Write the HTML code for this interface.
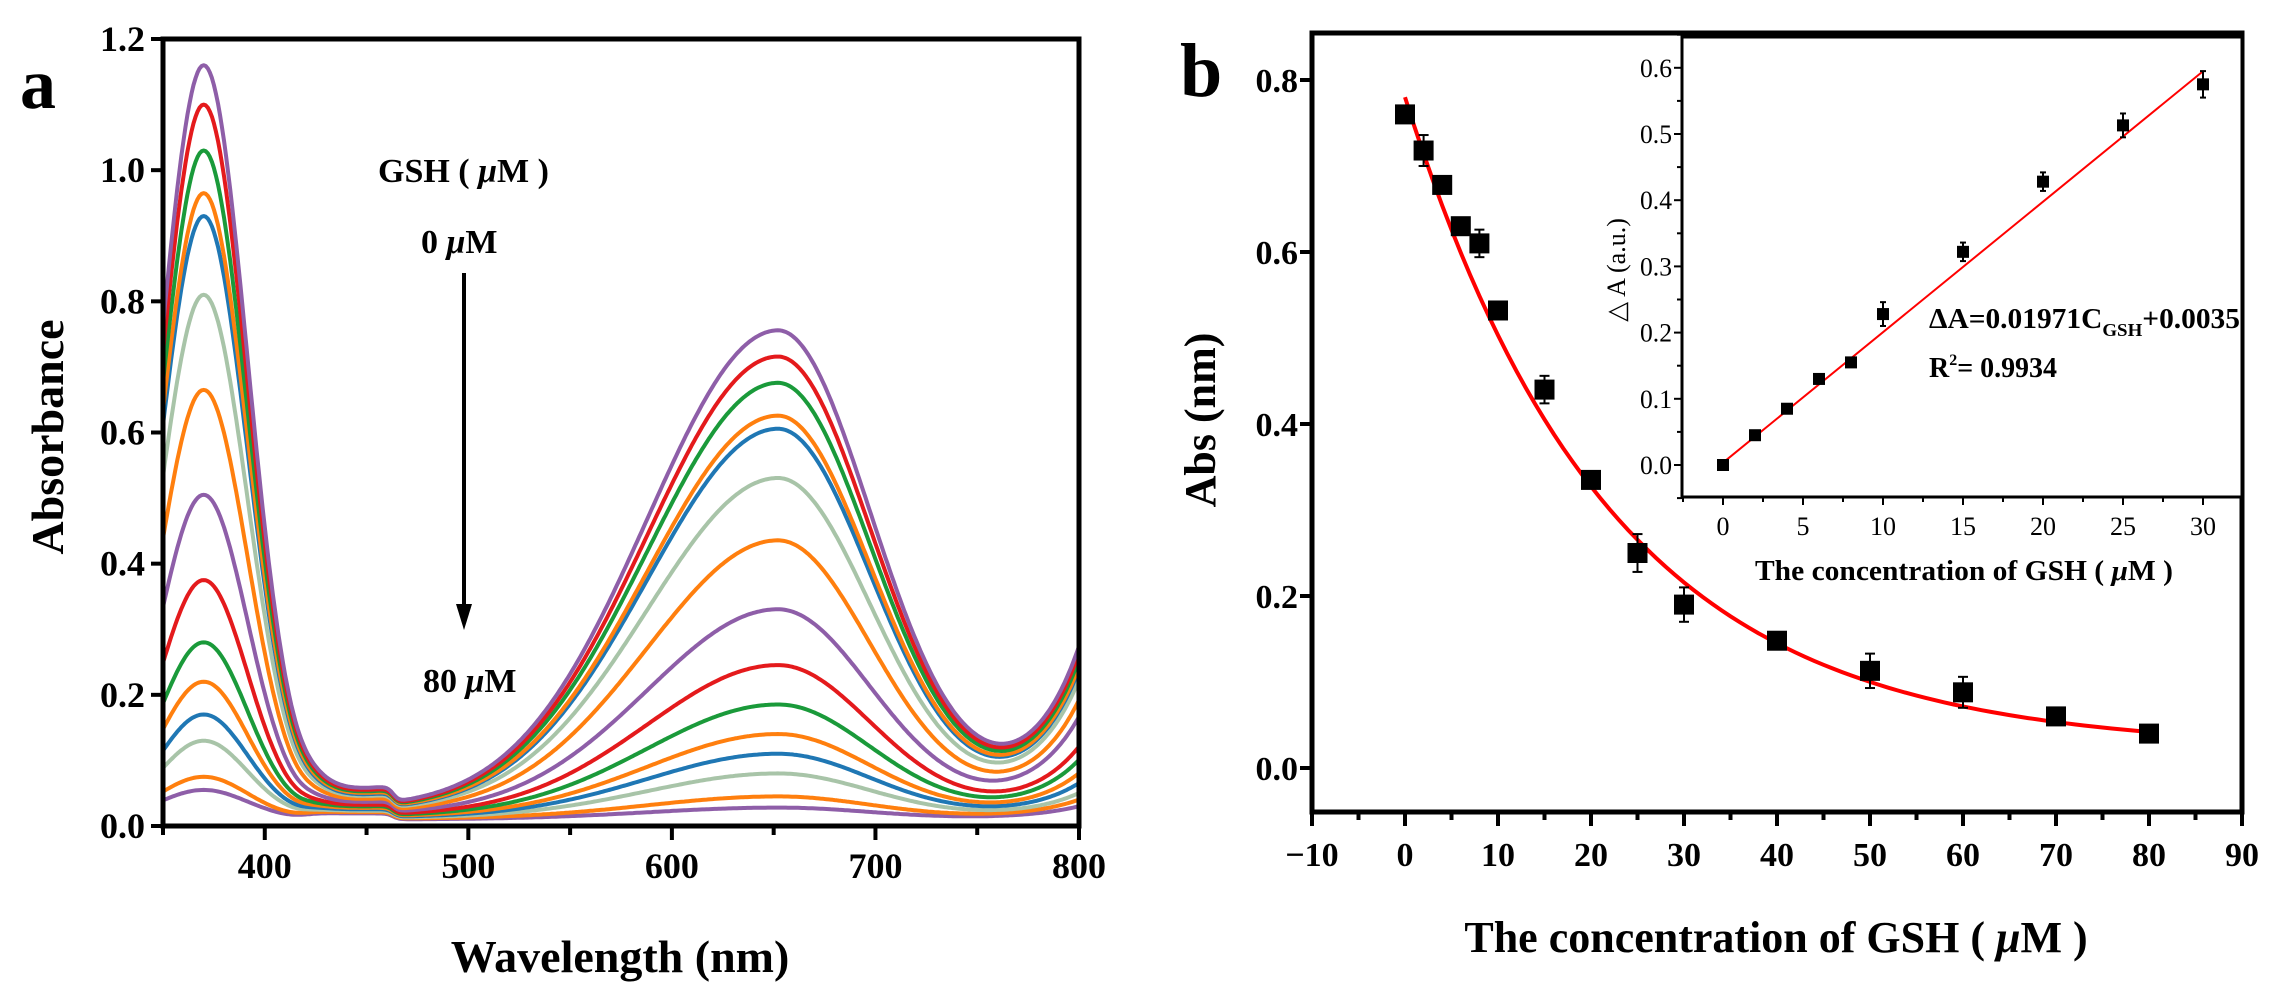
<!DOCTYPE html>
<html><head><meta charset="utf-8"><style>
html,body{margin:0;padding:0;background:#fff;}
svg{display:block;font-family:"Liberation Serif",serif;}
</style></head><body>
<svg id="fig" width="2278" height="993" viewBox="0 0 2278 993" xmlns="http://www.w3.org/2000/svg">
<g id="pa"></g>
<g id="pb"></g>
</svg>
<script>
// ---------- Panel a data ----------
const concLabels = [0,2,4,6,8,10,15,20,25,30,40,50,60,70,80];
const peak370 = [1.16,1.10,1.03,0.965,0.93,0.81,0.665,0.505,0.375,0.28,0.22,0.17,0.13,0.075,0.055];
const peak650 = [0.755,0.715,0.675,0.625,0.605,0.53,0.435,0.33,0.245,0.185,0.14,0.11,0.08,0.045,0.028];
const end800 = [0.27,0.26,0.25,0.24,0.235,0.22,0.19,0.165,0.12,0.10,0.08,0.065,0.05,0.04,0.03];
const baseline = [0.055,0.052,0.05,0.048,0.046,0.044,0.04,0.036,0.032,0.03,0.028,0.026,0.024,0.022,0.02];
const curveColors = ["#8e5ea8","#e41a1c","#1a9a3a","#ff7f0e","#1f77b4","#a8c4a8","#ff7f0e","#8e5ea8","#e41a1c","#1a9a3a","#ff7f0e","#1f77b4","#a8c4a8","#ff7f0e","#8e5ea8"];
const aXTicks = [400,500,600,700,800];
const aYTicks = [0.0,0.2,0.4,0.6,0.8,1.0,1.2];
// ---------- Panel b data ----------
const bConc = [0,2,4,6,8,10,15,20,25,30,40,50,60,70,80];
const bAbs = [0.76,0.718,0.678,0.63,0.61,0.532,0.44,0.335,0.25,0.19,0.148,0.113,0.088,0.06,0.04];
const bErr = [0.008,0.018,0.01,0.01,0.016,0.005,0.016,0.005,0.022,0.02,0.006,0.02,0.018,0.006,0.006];
const bFit = [0.022,0.758,22]; // y0, A, t of exponential decay fit
const bXTicks = [-10,0,10,20,30,40,50,60,70,80,90];
const bYTicks = [0.0,0.2,0.4,0.6,0.8];
// inset
const iConc = [0,2,4,6,8,10,15,20,25,30];
const iDA = [0.0,0.045,0.085,0.13,0.155,0.228,0.322,0.428,0.513,0.575];
const iErr = [0.004,0.006,0.004,0.004,0.004,0.018,0.014,0.014,0.018,0.02];
const iLine = [0.01971,0.0035];
const iXTicks = [0,5,10,15,20,25,30];
const iYTicks = [0.0,0.1,0.2,0.3,0.4,0.5,0.6];

const NS="http://www.w3.org/2000/svg";
function mk(parent,tag,attrs,text){const e=document.createElementNS(NS,tag);for(const k in attrs)e.setAttribute(k,attrs[k]);if(text!==undefined)e.textContent=text;parent.appendChild(e);return e;}

// ===== Panel a =====
const pa=document.getElementById('pa');
const aL=163,aR=1079,aT=39,aB=826;
const ax=v=>aL+(v-350)/450*(aR-aL);
const ay=v=>aB-v/1.2*(aB-aT);
const gCurves=mk(pa,'g',{});


function spec(i,l){
  const b=baseline[i];
  const g1=Math.exp(-Math.pow(l-370,2)/(2*21.5*21.5));
  const s2=l<652?64:46;
  const g2=Math.exp(-Math.pow(l-652,2)/(2*s2*s2));
  const tail=(end800[i]-b*0.5)*Math.exp((l-800)/26);
  const plateau=b*0.45/(1+Math.exp((l-463)/1.5))/(1+Math.exp((420-l)/4));
  return (peak370[i]-b*0.5)*g1+(peak650[i]-b*0.5)*g2+b*0.5+tail+plateau;
}
for(let i=concLabels.length-1;i>=0;i--){
  let d='';
  for(let l=350;l<=800;l+=1){d+=(l===350?'M':'L')+ax(l).toFixed(1)+','+ay(spec(i,l)).toFixed(1);}
  const p=mk(gCurves,'path',{d:d,fill:'none',stroke:curveColors[i],'stroke-width':4,'stroke-linejoin':'round'});
  
  
}
const fa=mk(pa,'rect',{x:aL,y:aT,width:aR-aL,height:aB-aT,fill:'none',stroke:'#000','stroke-width':5});


aYTicks.forEach(v=>{
  mk(pa,'line',{x1:aL-12,x2:aL,y1:ay(v),y2:ay(v),stroke:'#000','stroke-width':4});
  const t=mk(pa,'text',{x:aL-18,y:ay(v)+12,'text-anchor':'end','font-size':36,'font-weight':'bold'},v.toFixed(1));
  
  
});
for(let v=350;v<=800;v+=50){
  const maj=v%100===0;
  mk(pa,'line',{x1:ax(v),x2:ax(v),y1:aB,y2:aB+(maj?14:9),stroke:'#000','stroke-width':4});
}
aXTicks.forEach(v=>{
  const t=mk(pa,'text',{x:ax(v),y:aB+52,'text-anchor':'middle','font-size':36,'font-weight':'bold'},String(v));
  
  
});
let t;
t=mk(pa,'text',{x:620,y:972,'text-anchor':'middle','font-size':46,'font-weight':'bold'},'Wavelength (nm)');


t=mk(pa,'text',{x:0,y:0,transform:'translate(63,437) rotate(-90)','text-anchor':'middle','font-size':46,'font-weight':'bold'},'Absorbance');


t=mk(pa,'text',{x:20,y:108,'font-size':72,'font-weight':'bold'},'a');


t=mk(pa,'text',{x:378,y:182,'font-size':34,'font-weight':'bold'});
t.innerHTML='GSH ( <tspan font-style="italic">μ</tspan>M )';


t=mk(pa,'text',{x:421,y:253,'font-size':34,'font-weight':'bold'});
t.innerHTML='0 <tspan font-style="italic">μ</tspan>M';


t=mk(pa,'text',{x:423,y:692,'font-size':34,'font-weight':'bold'});
t.innerHTML='80 <tspan font-style="italic">μ</tspan>M';


const arr=mk(pa,'g',{});


mk(arr,'line',{x1:464,x2:464,y1:273,y2:612,stroke:'#000','stroke-width':4});
mk(arr,'polygon',{points:'456,604 472,604 464,630',fill:'#000'});

// ===== Panel b =====
const pb=document.getElementById('pb');
const bL=1312,bR=2242,bT=33,bB=812;
const bx=v=>bL+(v+10)/100*(bR-bL);
const by=v=>768-v/0.2*172;
const fb=mk(pb,'rect',{x:bL,y:bT,width:bR-bL,height:bB-bT,fill:'none',stroke:'#000','stroke-width':5});


bYTicks.forEach(v=>{
  mk(pb,'line',{x1:bL-12,x2:bL,y1:by(v),y2:by(v),stroke:'#000','stroke-width':4});
  const tt=mk(pb,'text',{x:bL-14,y:by(v)+12,'text-anchor':'end','font-size':34,'font-weight':'bold'},v.toFixed(1));
  
  
});
for(let v=-10;v<=90;v+=5){
  const maj=v%10===0;
  mk(pb,'line',{x1:bx(v),x2:bx(v),y1:bB,y2:bB+(maj?14:8),stroke:'#000','stroke-width':4});
}
bXTicks.forEach(v=>{
  const tt=mk(pb,'text',{x:bx(v),y:bB+54,'text-anchor':'middle','font-size':34,'font-weight':'bold'},v<0?'−'+Math.abs(v):String(v));
  
  
});
t=mk(pb,'text',{x:1776,y:952,'text-anchor':'middle','font-size':44,'font-weight':'bold'});
t.innerHTML='The concentration of GSH ( <tspan font-style="italic">μ</tspan>M )';


t=mk(pb,'text',{x:0,y:0,transform:'translate(1215,420) rotate(-90)','text-anchor':'middle','font-size':44,'font-weight':'bold'},'Abs (nm)');


t=mk(pb,'text',{x:1180,y:96,'font-size':76,'font-weight':'bold'},'b');


// fit curve
let fd='';
for(let c=0;c<=80;c+=1){const v=bFit[0]+bFit[1]*Math.exp(-c/bFit[2]);fd+=(c===0?'M':'L')+bx(c).toFixed(1)+','+by(v).toFixed(1);}
const fc=mk(pb,'path',{d:fd,fill:'none',stroke:'#f00','stroke-width':4});


bConc.forEach((c,i)=>{
  const g=mk(pb,'g',{});
  
  
  const x=bx(c),y=by(bAbs[i]),e=bErr[i]/0.2*172;
  mk(g,'line',{x1:x,x2:x,y1:y-e,y2:y+e,stroke:'#000','stroke-width':2});
  mk(g,'line',{x1:x-5,x2:x+5,y1:y-e,y2:y-e,stroke:'#000','stroke-width':2});
  mk(g,'line',{x1:x-5,x2:x+5,y1:y+e,y2:y+e,stroke:'#000','stroke-width':2});
  mk(g,'rect',{x:x-10,y:y-10,width:20,height:20,fill:'#000'});
});
// inset
const inset=mk(pb,'g',{});


const iL=1682,iR=2242,iT=37,iB=497;
const ix=v=>1723+v/30*(2203-1723);
const iy=v=>465-v/0.1*66.2;
mk(inset,'rect',{x:iL,y:iT,width:iR-iL,height:iB-iT,fill:'#fff',stroke:'#000','stroke-width':3});
for(let v=-0.05;v<=0.651;v+=0.05){
  const maj=Math.abs(Math.round(v*10)-v*10)<1e-6;
  mk(inset,'line',{x1:iL-(maj?8:5),x2:iL,y1:iy(v),y2:iy(v),stroke:'#000','stroke-width':2});
}
iYTicks.forEach(v=>{
  const tt=mk(inset,'text',{x:iL-10,y:iy(v)+9,'text-anchor':'end','font-size':26,textLength:32,lengthAdjust:'spacingAndGlyphs'},v.toFixed(1));
  
  
});
for(let v=-2.5;v<=32.5;v+=2.5){
  const maj=Math.abs(v%5)<1e-6;
  mk(inset,'line',{x1:ix(v),x2:ix(v),y1:iB,y2:iB+(maj?8:5),stroke:'#000','stroke-width':2});
}
iXTicks.forEach(v=>{
  const tt=mk(inset,'text',{x:ix(v),y:535,'text-anchor':'middle','font-size':26},String(v));
  
  
});
t=mk(inset,'text',{x:1755,y:580,'font-size':28,'font-weight':'bold',textLength:418,lengthAdjust:'spacingAndGlyphs'});
t.innerHTML='The concentration of GSH ( <tspan font-style="italic">μ</tspan>M )';


t=mk(inset,'text',{x:0,y:0,transform:'translate(1625,270) rotate(-90)','text-anchor':'middle','font-size':26},'△ A (a.u.)');


const ln=mk(inset,'line',{x1:ix(0),y1:iy(iLine[1]),x2:ix(30),y2:iy(iLine[0]*30+iLine[1]),stroke:'#f00','stroke-width':2});


iConc.forEach((c,i)=>{
  const g=mk(inset,'g',{});
  
  
  const x=ix(c),y=iy(iDA[i]),e=iErr[i]/0.1*66.2;
  mk(g,'line',{x1:x,x2:x,y1:y-e,y2:y+e,stroke:'#000','stroke-width':2});
  mk(g,'line',{x1:x-3,x2:x+3,y1:y-e,y2:y-e,stroke:'#000','stroke-width':2});
  mk(g,'line',{x1:x-3,x2:x+3,y1:y+e,y2:y+e,stroke:'#000','stroke-width':2});
  mk(g,'rect',{x:x-6,y:y-6,width:12,height:12,fill:'#000'});
});
t=mk(inset,'text',{x:1929,y:328,'font-size':28,'font-weight':'bold',textLength:311,lengthAdjust:'spacingAndGlyphs'});
t.innerHTML='ΔA=0.01971C<tspan font-size="18" dy="8">GSH</tspan><tspan dy="-8">+0.0035</tspan>';


t=mk(inset,'text',{x:1929,y:377,'font-size':28,'font-weight':'bold',textLength:128,lengthAdjust:'spacingAndGlyphs'});
t.innerHTML='R<tspan font-size="16" dy="-12">2</tspan><tspan dy="12">= 0.9934</tspan>';


</script>
</body></html>
